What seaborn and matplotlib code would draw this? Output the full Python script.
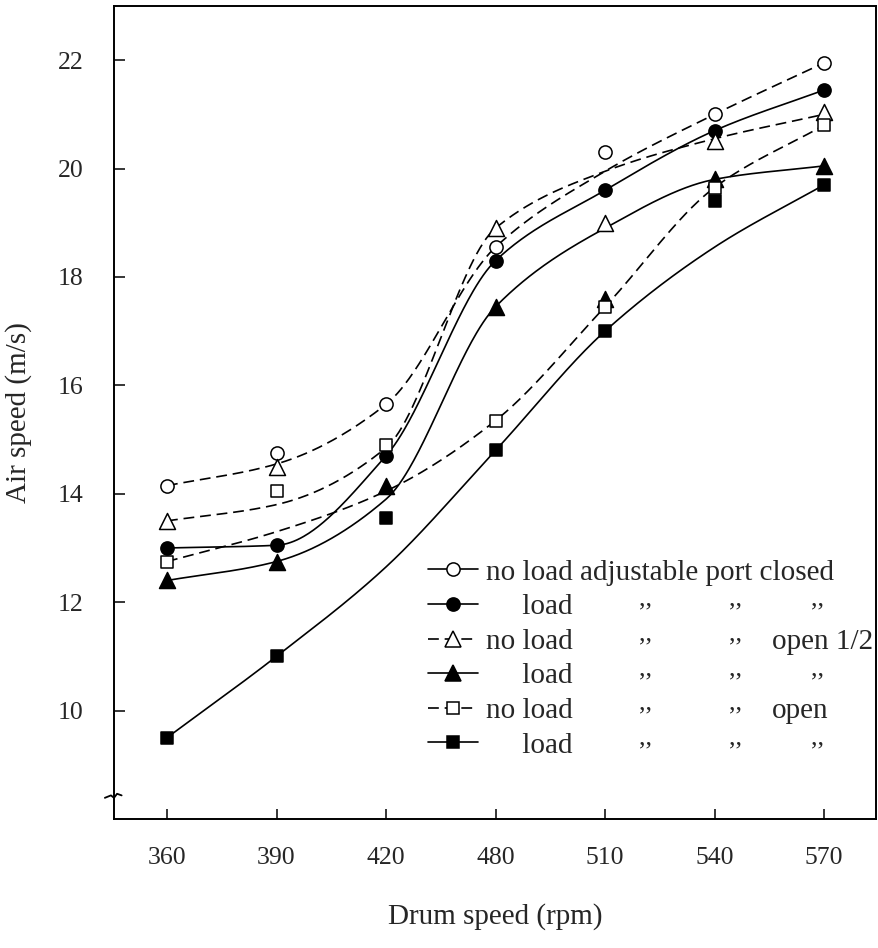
import numpy as np
import matplotlib
matplotlib.use("Agg")
import matplotlib.pyplot as plt
import seaborn as sns
from matplotlib.lines import Line2D

# ── Data ────────────────────────────────────────────────────────
drum_speed = ['360', '390', '420', '480', '510', '540', '570']

# measured points (markers)
nl_closed_pts = [14.15, 14.75, 15.65, 18.55, 20.3, 21.0, 21.95]
ld_closed_pts = [13.0, 13.05, 14.7, 18.3, 19.6, 20.7, 21.45]
nl_half_pts   = [13.5, 14.5, np.nan, 18.9, 19.0, 20.5, 21.05]
ld_half_pts   = [12.4, 12.75, 14.15, 17.45, 17.6, 19.8, 20.05]
nl_open_pts   = [12.75, 14.05, 14.9, 15.35, 17.45, 19.65, 20.8]
ld_open_pts   = [9.5, 11.0, 13.55, 14.8, 17.0, 19.4, 19.7]

# hand-drawn fitted curves, read at each drum speed
nl_closed_fit = [14.15, 14.55, 15.65, 18.55, 19.95, 21.0, 21.95]
ld_closed_fit = [13.0, 13.05, 14.7, 18.3, 19.6, 20.7, 21.45]
nl_half_fit   = [13.5, 13.8, 14.85, 18.9, 19.95, 20.55, 21.0]
ld_half_fit   = [12.4, 12.75, 13.9, 17.45, 18.9, 19.8, 20.05]
nl_open_fit   = [12.75, 13.3, 14.05, 15.35, 17.45, 19.65, 20.8]
ld_open_fit   = [9.5, 11.0, 12.65, 14.8, 17.0, 18.55, 19.7]

y_ticks = [10, 12, 14, 16, 18, 20, 22]


def pchip(x, y, xs):
    """Monotone cubic (Fritsch-Carlson) through the knots."""
    x = np.asarray(x, float)
    y = np.asarray(y, float)
    h = np.diff(x)
    d = np.diff(y) / h
    m = np.zeros_like(y)
    for k in range(1, len(y) - 1):
        if d[k - 1] * d[k] > 0:
            w1 = 2 * h[k] + h[k - 1]
            w2 = h[k] + 2 * h[k - 1]
            m[k] = (w1 + w2) / (w1 / d[k - 1] + w2 / d[k])
    m[0] = d[0]
    m[-1] = d[-1]
    idx = np.clip(np.searchsorted(x, xs) - 1, 0, len(h) - 1)
    t = (xs - x[idx]) / h[idx]
    h00 = 2 * t**3 - 3 * t**2 + 1
    h10 = t**3 - 2 * t**2 + t
    h01 = -2 * t**3 + 3 * t**2
    h11 = t**3 - t**2
    return (h00 * y[idx] + h10 * h[idx] * m[idx]
            + h01 * y[idx + 1] + h11 * h[idx] * m[idx + 1])


# ── Style ───────────────────────────────────────────────────────
sns.set_style("white")
plt.rcParams['font.family'] = ['Liberation Serif', 'DejaVu Serif']
plt.rcParams['axes.linewidth'] = 1.4

fig = plt.figure(figsize=(8.79, 9.48), dpi=100)
ax = fig.add_axes([0.1297, 0.1361, 0.8669, 0.8576])

pos = np.arange(len(drum_speed))
xs = np.linspace(pos[0], pos[-1], 400)

DASH = (6.5, 3.5)
series = [
    # (points, fit, marker, face, size, dashed, legend dashed, label)
    (nl_closed_pts, nl_closed_fit, 'o', 'white', 9.5, True, False,
     'no load adjustable port closed'),
    (ld_closed_pts, ld_closed_fit, 'o', 'black', 9.5, False, False,
     '     load'),
    (nl_half_pts, nl_half_fit, '^', 'white', 11.5, True, True,
     'no load'),
    (ld_half_pts, ld_half_fit, '^', 'black', 11.5, False, False,
     '     load'),
    (nl_open_pts, nl_open_fit, 's', 'white', 8, True, True,
     'no load'),
    (ld_open_pts, ld_open_fit, 's', 'black', 8, False, False,
     '     load'),
]

handles, labels = [], []
for pts, fit, mk, face, ms, dashed, leg_dashed, lab in series:
    ys = pchip(pos, fit, xs)
    kw = dict(dashes=DASH) if dashed else {}
    sns.lineplot(x=xs, y=ys, color='black', lw=1.2, ax=ax,
                 legend=False, zorder=2, **kw)
    sns.scatterplot(x=pos, y=pts, marker=mk, s=ms**2, color=face,
                    edgecolor='black', linewidth=1.1, ax=ax,
                    legend=False, zorder=3)
    handles.append(Line2D([], [], color='black', lw=1.2,
                          ls=(0, DASH) if leg_dashed else '-',
                          marker=mk, markersize=ms,
                          markerfacecolor=face, markeredgecolor='black',
                          markeredgewidth=1.1))
    labels.append(lab)

# ── Axes ────────────────────────────────────────────────────────
ax.set_xlim(-0.484, 6.475)
ax.set_ylim(8, 23)
ax.set_xticks(pos)
ax.set_xticklabels(drum_speed)
ax.set_yticks(y_ticks)
for s in ax.spines.values():
    s.set_visible(True)
    s.set_color('black')
    s.set_linewidth(1.4)
ax.tick_params(axis='x', direction='in', length=7, width=1.3,
               labelsize=18.5, pad=20, top=False, bottom=True)
ax.tick_params(axis='y', direction='in', length=8, width=1.3,
               labelsize=18.5, pad=22, right=False, left=True)

ax.set_xlabel('Drum speed (rpm)', fontsize=21)
ax.set_ylabel('Air speed (m/s)', fontsize=21)
ax.xaxis.set_label_coords(0.5, -0.104)
ax.yaxis.set_label_coords(-0.108, 0.5)

# axis break squiggle on the y axis
ax.plot([-0.012, -0.004, 0.0, 0.004, 0.010], [0.026, 0.029, 0.026, 0.031, 0.029],
        transform=ax.transAxes, color='black', lw=1.3, clip_on=False)

# ── Legend ──────────────────────────────────────────────────────
leg = ax.legend(handles, labels, loc='upper left',
                bbox_to_anchor=(0.412, 0.3195), frameon=False, fontsize=21,
                handlelength=1.7, handletextpad=0.3, labelspacing=0.28,
                borderpad=0, borderaxespad=0)

fig.canvas.draw()
inv = ax.transAxes.inverted()
ditto_x = [0.697, 0.815, 0.9226]
extra = {2: 'open 1/2', 4: 'open'}
for i, t in enumerate(leg.get_texts()):
    if i == 0:
        continue
    bb = t.get_window_extent()
    (_, y0), (_, y1) = inv.transform([[bb.x0, bb.y0], [bb.x1, bb.y1]])
    ym = (y0 + y1) / 2
    n_ditto = 2 if i in extra else 3
    for xd in ditto_x[:n_ditto]:
        ax.text(xd, ym + 0.009, ',,', transform=ax.transAxes, fontsize=19,
                ha='center', va='center')
    if i in extra:
        ax.text(0.8635, ym, extra[i], transform=ax.transAxes, fontsize=21,
                ha='left', va='center')

fig.savefig('out.png', dpi=100, facecolor='white')
